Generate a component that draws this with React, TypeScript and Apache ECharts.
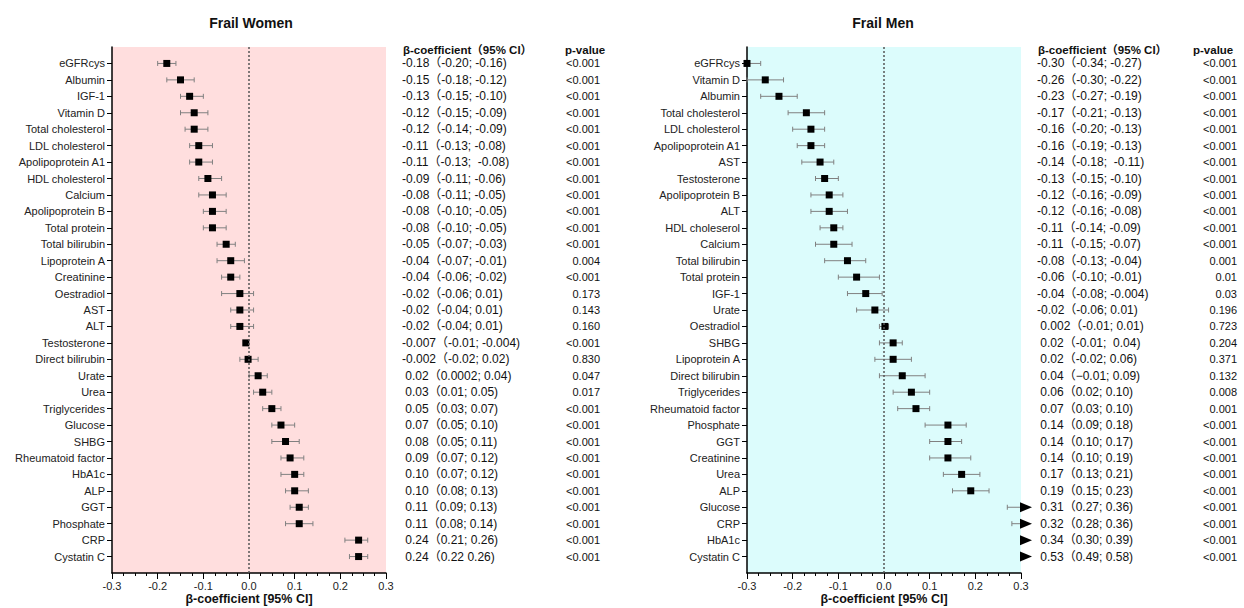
import React, { useEffect, useRef } from 'react';
import * as echarts from 'echarts';

// ---------- Data: Frail Women ----------
const womenLabels = [
  'eGFRcys', 'Albumin', 'IGF-1', 'Vitamin D', 'Total cholesterol', 'LDL cholesterol',
  'Apolipoprotein A1', 'HDL cholesterol', 'Calcium', 'Apolipoprotein B', 'Total protein',
  'Total bilirubin', 'Lipoprotein A', 'Creatinine', 'Oestradiol', 'AST', 'ALT',
  'Testosterone', 'Direct bilirubin', 'Urate', 'Urea', 'Triglycerides', 'Glucose', 'SHBG',
  'Rheumatoid factor', 'HbA1c', 'ALP', 'GGT', 'Phosphate', 'CRP', 'Cystatin C',
];
const womenBeta = [
  -0.18, -0.15, -0.13, -0.12, -0.12, -0.11, -0.11, -0.09, -0.08, -0.08, -0.08, -0.05, -0.04,
  -0.04, -0.02, -0.02, -0.02, -0.007, -0.002, 0.02, 0.03, 0.05, 0.07, 0.08, 0.09, 0.10, 0.10,
  0.11, 0.11, 0.24, 0.24,
];
const womenLow = [
  -0.20, -0.18, -0.15, -0.15, -0.14, -0.13, -0.13, -0.11, -0.11, -0.10, -0.10, -0.07, -0.07,
  -0.06, -0.06, -0.04, -0.04, -0.01, -0.02, 0.0002, 0.01, 0.03, 0.05, 0.05, 0.07, 0.07, 0.08,
  0.09, 0.08, 0.21, 0.22,
];
const womenHigh = [
  -0.16, -0.12, -0.10, -0.09, -0.09, -0.08, -0.08, -0.06, -0.05, -0.05, -0.05, -0.03, -0.01,
  -0.02, 0.01, 0.01, 0.01, -0.004, 0.02, 0.04, 0.05, 0.07, 0.10, 0.11, 0.12, 0.12, 0.13,
  0.13, 0.14, 0.26, 0.26,
];
const womenCIText = [
  '-0.18（-0.20; -0.16)', '-0.15（-0.18; -0.12)', '-0.13（-0.15; -0.10)', '-0.12（-0.15; -0.09)',
  '-0.12（-0.14; -0.09)', '-0.11（-0.13; -0.08)', '-0.11（-0.13;  -0.08)', '-0.09（-0.11; -0.06)',
  '-0.08（-0.11; -0.05)', '-0.08（-0.10; -0.05)', '-0.08（-0.10; -0.05)', '-0.05（-0.07; -0.03)',
  '-0.04（-0.07; -0.01)', '-0.04（-0.06; -0.02)', '-0.02（-0.06; 0.01)', '-0.02（-0.04; 0.01)',
  '-0.02（-0.04; 0.01)', '-0.007（-0.01; -0.004)', '-0.002（-0.02; 0.02)', ' 0.02（0.0002; 0.04)',
  ' 0.03（0.01; 0.05)', ' 0.05（0.03; 0.07)', ' 0.07（0.05; 0.10)', ' 0.08（0.05; 0.11)',
  ' 0.09（0.07; 0.12)', ' 0.10（0.07; 0.12)', ' 0.10（0.08; 0.13)', ' 0.11（0.09; 0.13)',
  ' 0.11（0.08; 0.14)', ' 0.24（0.21; 0.26)', ' 0.24（0.22 0.26)',
];
const womenP = [
  '<0.001', '<0.001', '<0.001', '<0.001', '<0.001', '<0.001', '<0.001', '<0.001', '<0.001',
  '<0.001', '<0.001', '<0.001', '0.004', '<0.001', '0.173', '0.143', '0.160', '<0.001', '0.830',
  '0.047', '0.017', '<0.001', '<0.001', '<0.001', '<0.001', '<0.001', '<0.001', '<0.001',
  '<0.001', '<0.001', '<0.001',
];

// ---------- Data: Frail Men ----------
const menLabels = [
  'eGFRcys', 'Vitamin D', 'Albumin', 'Total cholesterol', 'LDL cholesterol', 'Apolipoprotein A1',
  'AST', 'Testosterone', 'Apolipoprotein B', 'ALT', 'HDL choleserol', 'Calcium',
  'Total bilirubin', 'Total protein', 'IGF-1', 'Urate', 'Oestradiol', 'SHBG', 'Lipoprotein A',
  'Direct bilirubin', 'Triglycerides', 'Rheumatoid factor', 'Phosphate', 'GGT', 'Creatinine',
  'Urea', 'ALP', 'Glucose', 'CRP', 'HbA1c', 'Cystatin C',
];
const menBeta = [
  -0.30, -0.26, -0.23, -0.17, -0.16, -0.16, -0.14, -0.13, -0.12, -0.12, -0.11, -0.11, -0.08,
  -0.06, -0.04, -0.02, 0.002, 0.02, 0.02, 0.04, 0.06, 0.07, 0.14, 0.14, 0.14, 0.17, 0.19,
  0.31, 0.32, 0.34, 0.53,
];
const menLow = [
  -0.34, -0.30, -0.27, -0.21, -0.20, -0.19, -0.18, -0.15, -0.16, -0.16, -0.14, -0.15, -0.13,
  -0.10, -0.08, -0.06, -0.01, -0.01, -0.02, -0.01, 0.02, 0.03, 0.09, 0.10, 0.10, 0.13, 0.15,
  0.27, 0.28, 0.30, 0.49,
];
const menHigh = [
  -0.27, -0.22, -0.19, -0.13, -0.13, -0.13, -0.11, -0.10, -0.09, -0.08, -0.09, -0.07, -0.04,
  -0.01, -0.004, 0.01, 0.01, 0.04, 0.06, 0.09, 0.10, 0.10, 0.18, 0.17, 0.19, 0.21, 0.23,
  0.36, 0.36, 0.39, 0.58,
];
const menCIText = [
  '-0.30（-0.34; -0.27)', '-0.26（-0.30; -0.22)', '-0.23（-0.27; -0.19)', '-0.17（-0.21; -0.13)',
  '-0.16（-0.20; -0.13)', '-0.16（-0.19; -0.13)', '-0.14（-0.18;  -0.11)', '-0.13（-0.15; -0.10)',
  '-0.12（-0.16; -0.09)', '-0.12（-0.16; -0.08)', '-0.11（-0.14; -0.09)', '-0.11（-0.15; -0.07)',
  '-0.08（-0.13; -0.04)', '-0.06（-0.10; -0.01)', '-0.04（-0.08; -0.004)', '-0.02（-0.06; 0.01)',
  ' 0.002（-0.01; 0.01)', ' 0.02（-0.01;  0.04)', ' 0.02（-0.02; 0.06)', ' 0.04（−0.01; 0.09)',
  ' 0.06（0.02; 0.10)', ' 0.07（0.03; 0.10)', ' 0.14（0.09; 0.18)', ' 0.14（0.10; 0.17)',
  ' 0.14（0.10; 0.19)', ' 0.17（0.13; 0.21)', ' 0.19（0.15; 0.23)', ' 0.31（0.27; 0.36)',
  ' 0.32（0.28; 0.36)', ' 0.34（0.30; 0.39)', ' 0.53（0.49; 0.58)',
];
const menP = [
  '<0.001', '<0.001', '<0.001', '<0.001', '<0.001', '<0.001', '<0.001', '<0.001', '<0.001',
  '<0.001', '<0.001', '<0.001', '0.001', '0.01', '0.03', '0.196', '0.723', '0.204', '0.371',
  '0.132', '0.008', '0.001', '<0.001', '<0.001', '<0.001', '<0.001', '<0.001', '<0.001',
  '<0.001', '<0.001', '<0.001',
];

const xTicksMin = -0.3;
const xTicksMax = 0.3;
const xTickStep = 0.1;

const FONT = "'Liberation Sans', Arial, 'Noto Sans CJK SC', sans-serif";

// pad categories top and bottom so rows sit inside the panel
const pad = (arr: string[]) => [' ', ...arr, '  '];

function makeRenderItem() {
  return (params: any, api: any) => {
    const beta = api.value(0);
    const lo = api.value(1);
    const hi = api.value(2);
    const cat = api.value(3);
    const loC = Math.max(lo, xTicksMin);
    const hiC = Math.min(hi, xTicksMax);
    const p1 = api.coord([loC, cat]);
    const p2 = api.coord([hiC, cat]);
    const y = p1[1];
    const barStyle = { stroke: '#808080', lineWidth: 1 };
    const children: any[] = [];
    if (hiC > loC) {
      children.push({ type: 'line', shape: { x1: p1[0], y1: y, x2: p2[0], y2: y }, style: barStyle });
    }
    if (lo >= xTicksMin) {
      children.push({ type: 'line', shape: { x1: p1[0], y1: y - 2.5, x2: p1[0], y2: y + 2.5 }, style: barStyle });
    }
    if (hi <= xTicksMax) {
      children.push({ type: 'line', shape: { x1: p2[0], y1: y - 2.5, x2: p2[0], y2: y + 2.5 }, style: barStyle });
    }
    if (beta > xTicksMax) {
      const ex = api.coord([xTicksMax, cat])[0];
      children.push({
        type: 'polygon',
        shape: { points: [[ex - 1, y - 5], [ex + 11, y], [ex - 1, y + 5]] },
        style: { fill: '#000' },
      });
    } else {
      const c = api.coord([beta, cat]);
      children.push({ type: 'rect', shape: { x: c[0] - 3.5, y: c[1] - 3.5, width: 7, height: 7 }, style: { fill: '#000' } });
    }
    return { type: 'group', children };
  };
}

function panelAxes(gridIndex: number, labels: string[], ciText: string[], pText: string[], ciMargin: number, pMargin: number) {
  const cats = pad(labels);
  const ci = pad(ciText);
  const pv = pad(pText);
  const base = {
    type: 'category',
    gridIndex,
    inverse: true,
    boundaryGap: false,
  };
  return [
    {
      ...base,
      data: cats,
      position: 'left',
      axisLine: { show: true, onZero: false, lineStyle: { color: '#000', width: 1.5 } },
      axisTick: {
        show: true,
        length: 5,
        interval: (_i: number, v: string) => v.trim() !== '',
        lineStyle: { color: '#000', width: 1 },
      },
      axisLabel: { interval: 0, fontSize: 11, color: '#222', margin: 7, fontFamily: FONT },
      splitLine: { show: false },
    },
    {
      ...base,
      data: ci,
      position: 'right',
      axisLine: { show: false, onZero: false },
      axisTick: { show: false },
      axisLabel: { interval: 0, fontSize: 12, color: '#111', margin: ciMargin, align: 'left', fontFamily: FONT },
      splitLine: { show: false },
    },
    {
      ...base,
      data: pv,
      position: 'right',
      axisLine: { show: false, onZero: false },
      axisTick: { show: false },
      axisLabel: { interval: 0, fontSize: 11, color: '#111', margin: pMargin, align: 'right', fontFamily: FONT },
      splitLine: { show: false },
    },
  ];
}

function xAxisFor(gridIndex: number) {
  return {
    type: 'value',
    gridIndex,
    min: xTicksMin,
    max: xTicksMax,
    interval: xTickStep,
    axisLine: { show: true, onZero: false, lineStyle: { color: '#000', width: 1.5 } },
    axisTick: { show: true, length: 6, lineStyle: { color: '#000', width: 1 } },
    minorTick: { show: true, splitNumber: 4, length: 3, lineStyle: { color: '#000', width: 1 } },
    splitLine: { show: false },
    axisLabel: {
      fontSize: 11,
      color: '#222',
      margin: 7,
      fontFamily: FONT,
      formatter: (v: number) => v.toFixed(1),
    },
    name: 'β-coefficient [95% CI]',
    nameLocation: 'middle',
    nameGap: 20,
    nameMoveOverlap: false,
    nameTextStyle: { fontSize: 12.5, fontWeight: 'bold', color: '#111', fontFamily: FONT },
  };
}

export default function App() {
  const ref = useRef<HTMLDivElement>(null);
  useEffect(() => {
    if (!ref.current) return;
    const chart = echarts.init(ref.current, null, { renderer: 'svg' });
    const wData = womenLabels.map((_, i) => [womenBeta[i], womenLow[i], womenHigh[i], i + 1]);
    const mData = menLabels.map((_, i) => [menBeta[i], menLow[i], menHigh[i], i + 1]);
    const zeroLine = (xi: number, yi: number) => ({
      type: 'line',
      xAxisIndex: xi,
      yAxisIndex: yi,
      data: [],
      silent: true,
      z: 3,
      markLine: {
        symbol: 'none',
        silent: true,
        label: { show: false },
        lineStyle: { color: '#555', width: 1.5, type: [2, 2] },
        data: [{ xAxis: 0 }],
      },
    });
    const option: any = {
      animation: false,
      textStyle: { fontFamily: FONT },
      grid: [
        { left: 112, right: 1244 - 386, top: 47, bottom: 35, outerBoundsMode: 'none', containLabel: false, show: true, backgroundColor: '#FFDEDE', borderWidth: 0 },
        { left: 747, right: 1244 - 1021, top: 47, bottom: 35, outerBoundsMode: 'none', containLabel: false, show: true, backgroundColor: '#DCFCFC', borderWidth: 0 },
      ],
      xAxis: [xAxisFor(0), xAxisFor(1)],
      yAxis: [
        ...panelAxes(0, womenLabels, womenCIText, womenP, 16, 214),
        ...panelAxes(1, menLabels, menCIText, menP, 16, 216),
      ],
      graphic: [
        { type: 'text', x: 251, y: 23, style: { text: 'Frail Women', font: `bold 14px ${FONT}`, fill: '#111', textAlign: 'center', textVerticalAlign: 'middle' } },
        { type: 'text', x: 883, y: 23, style: { text: 'Frail Men', font: `bold 14px ${FONT}`, fill: '#111', textAlign: 'center', textVerticalAlign: 'middle' } },
        { type: 'text', x: 403, y: 50, style: { text: 'β-coefficient（95% CI）', font: `bold 11.5px ${FONT}`, fill: '#111', textAlign: 'left', textVerticalAlign: 'middle' } },
        { type: 'text', x: 565, y: 50, style: { text: 'p-value', font: `bold 11.5px ${FONT}`, fill: '#111', textAlign: 'left', textVerticalAlign: 'middle' } },
        { type: 'text', x: 1038, y: 50, style: { text: 'β-coefficient（95% CI）', font: `bold 11.5px ${FONT}`, fill: '#111', textAlign: 'left', textVerticalAlign: 'middle' } },
        { type: 'text', x: 1193, y: 50, style: { text: 'p-value', font: `bold 11.5px ${FONT}`, fill: '#111', textAlign: 'left', textVerticalAlign: 'middle' } },
      ],
      series: [
        zeroLine(0, 0),
        zeroLine(1, 3),
        {
          type: 'custom',
          xAxisIndex: 0,
          yAxisIndex: 0,
          renderItem: makeRenderItem(),
          encode: { x: [0, 1, 2], y: 3 },
          data: wData,
          clip: false,
          z: 4,
        },
        {
          type: 'custom',
          xAxisIndex: 1,
          yAxisIndex: 3,
          renderItem: makeRenderItem(),
          encode: { x: [0, 1, 2], y: 3 },
          data: mData,
          clip: false,
          z: 4,
        },
      ],
    };
    chart.setOption(option);
    return () => chart.dispose();
  }, []);
  return (
    <div
      ref={ref}
      style={{ position: 'fixed', left: 0, top: 0, width: 1244, height: 608, background: '#fff' }}
    />
  );
}
